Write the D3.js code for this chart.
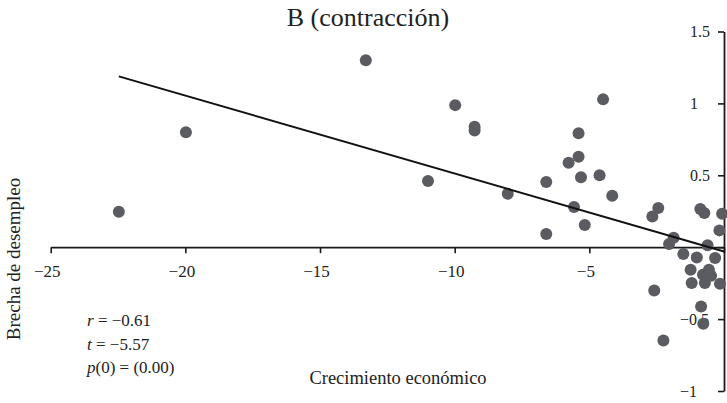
<!DOCTYPE html>
<html>
<head>
<meta charset="utf-8">
<script src="https://cdn.jsdelivr.net/npm/d3@7"></script>
<style>
  body { margin: 0; background: #fff; }
  svg text { font-family: "Liberation Serif", "DejaVu Serif", serif; fill: #222; }
</style>
</head>
<body>
<div id="chart"></div>
<script>
// Crecimiento económico (x) vs brecha de desempleo (y), periodos de contracción
var growth = [-22.47, -19.98, -13.3, -9.98, -9.26, -9.26, -10.99, -8.03, -6.6, -6.6,
  -5.77, -5.40, -5.40, -5.31, -5.57, -5.17, -4.49, -4.62, -4.15, -2.44,
  -2.66, -1.87, -2.04, -0.88, -0.73, -0.07, -0.17, -0.61, -1.51, -1.01,
  -0.33, -1.24, -0.78, -0.56, -0.48, -1.20, -0.71, -0.15, -2.59, -0.85,
  -0.77, -2.25];
var gap = [0.247, 0.80, 1.30, 0.988, 0.838, 0.812, 0.461, 0.371, 0.454, 0.092,
  0.587, 0.793, 0.629, 0.487, 0.280, 0.155, 1.028, 0.50, 0.357, 0.273,
  0.213, 0.066, 0.022, 0.266, 0.238, 0.233, 0.117, 0.013, -0.047, -0.071,
  -0.075, -0.157, -0.192, -0.157, -0.199, -0.249, -0.249, -0.254, -0.301, -0.412,
  -0.533, -0.649];

var fitIntercept = -0.03;
var fitSlope = -0.0542;
var fitRange = [-22.47, 0];

var xTicks = [-25, -20, -15, -10, -5, 0];
var xTickLabels = ["−25", "−20", "−15", "−10", "−5", ""];
var yTicks = [-1, -0.5, 0, 0.5, 1, 1.5];
var yTickLabels = ["−1", "−0.5", "", "0.5", "1", "1.5"];

var statNames = ["r", "t", "p"];
var statTexts = [" = −0.61", " = −5.57", "(0) = (0.00)"];

var W = 727, H = 403;

var svg = d3.select('#chart').append('svg:svg').attr('width', W).attr('height', H);

var x = d3.scaleLinear().domain([-25, 0]).range([50.7, 724]);
var y = d3.scaleLinear().domain([-1, 1.5]).range([391, 31.5]);

// x axis crosses at y = 0
var xAxis = svg.append('g').attr('transform', 'translate(0,' + y(0) + ')')
  .call(d3.axisBottom(x).tickValues(xTicks).tickSize(6).tickSizeOuter(0)
    .tickFormat(function(d, i) { return xTickLabels[i]; }));
xAxis.attr('font-family', null);
xAxis.select('.domain').attr('stroke', '#1a1a1a').attr('stroke-width', 1.8);
xAxis.selectAll('.tick line').attr('stroke', '#1a1a1a').attr('stroke-width', 1.6);
xAxis.selectAll('.tick text').attr('font-size', 17).attr('dy', '1.2em').attr('x', -4);

// y axis on the right edge, at x = 0
var yAxis = svg.append('g').attr('transform', 'translate(' + x(0) + ',0)')
  .call(d3.axisLeft(y).tickValues(yTicks).tickSize(6).tickSizeOuter(0)
    .tickFormat(function(d, i) { return yTickLabels[i]; }));
yAxis.attr('font-family', null);
yAxis.select('.domain').attr('stroke', '#1a1a1a').attr('stroke-width', 1.8);
yAxis.selectAll('.tick line').attr('stroke', '#1a1a1a').attr('stroke-width', 1.6);
yAxis.selectAll('.tick text').attr('font-size', 16)
  .attr('text-anchor', 'start')
  .attr('x', function(d) { return d < 0 ? -44 : -34; });

// points
svg.append('g').selectAll('circle').data(growth).enter().append('circle')
  .attr('cx', function(d) { return x(d); })
  .attr('cy', function(d, i) { return y(gap[i]); })
  .attr('r', 6)
  .attr('fill', '#5b5c61');

// regression line
svg.append('line')
  .attr('x1', x(fitRange[0])).attr('y1', y(fitIntercept + fitSlope * fitRange[0]))
  .attr('x2', x(fitRange[1])).attr('y2', y(fitIntercept + fitSlope * fitRange[1]))
  .attr('stroke', '#111').attr('stroke-width', 2);

// title and axis labels
svg.append('text').attr('x', 368).attr('y', 26).attr('text-anchor', 'middle')
  .attr('font-size', 26).text('B (contracción)');
svg.append('text').attr('x', 398).attr('y', 384).attr('text-anchor', 'middle')
  .attr('font-size', 18.5).text('Crecimiento económico');
svg.append('text').attr('transform', 'translate(20,259) rotate(-90)').attr('text-anchor', 'middle')
  .attr('font-size', 19).text('Brecha de desempleo');

// stats
var stats = svg.append('g');
statNames.forEach(function(n, i) {
  var t = stats.append('text').attr('x', 87).attr('y', 326 + i * 23.5)
    .attr('font-size', 17);
  t.append('tspan').attr('font-style', 'italic').text(n);
  t.append('tspan').text(statTexts[i]);
});
</script>
</body>
</html>
